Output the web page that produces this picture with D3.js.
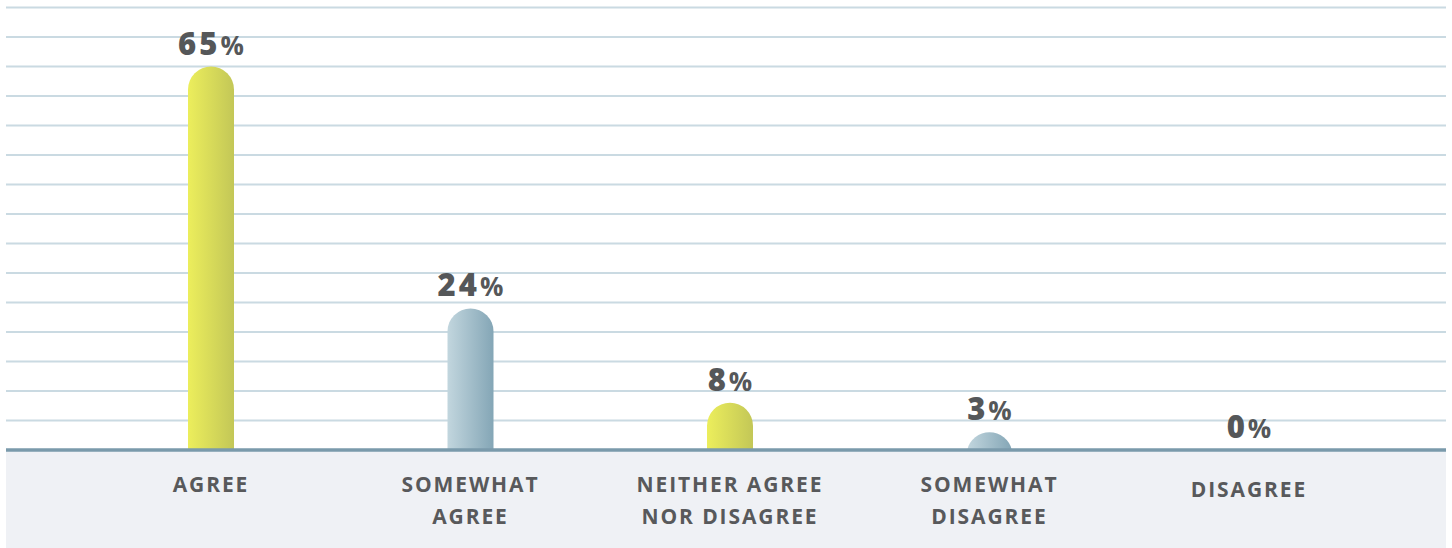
<!DOCTYPE html>
<html>
<head>
<meta charset="utf-8">
<script src="https://cdn.jsdelivr.net/npm/d3@7"></script>
<style>
  html, body { margin: 0; padding: 0; background: #ffffff; }
  svg { display: block; }
</style>
</head>
<body>
<svg id="chart" width="1452" height="548"></svg>
<script>
// Survey response shares (%)
const categories = ["AGREE", "SOMEWHAT AGREE", "NEITHER AGREE NOR DISAGREE", "SOMEWHAT DISAGREE", "DISAGREE"];
const categoryLines = [["AGREE"], ["SOMEWHAT", "AGREE"], ["NEITHER AGREE", "NOR DISAGREE"], ["SOMEWHAT", "DISAGREE"], ["DISAGREE"]];
const values = [65, 24, 8, 3, 0];
const valueLabels = ["65", "24", "8", "3", "0"];
const gridTicks = [0, 5, 10, 15, 20, 25, 30, 35, 40, 45, 50, 55, 60, 65, 70, 75];

const W = 1452, H = 548;
const left = 6, right = 1446, baseY = 450, topY = 7.5;

const svg = d3.select("#chart");
const defs = svg.append("defs");

function grad(id, c0, c1) {
  const g = defs.append("linearGradient").attr("id", id)
    .attr("x1", "0%").attr("x2", "100%").attr("y1", "0%").attr("y2", "0%");
  g.append("stop").attr("offset", "0%").attr("stop-color", c0);
  g.append("stop").attr("offset", "100%").attr("stop-color", c1);
}
grad("gYellow", "#ecee5c", "#c3c757");
grad("gBlue", "#c2d6de", "#84a6b6");
const fills = ["url(#gYellow)", "url(#gBlue)", "url(#gYellow)", "url(#gBlue)", "url(#gYellow)"];

const x = d3.scalePoint().domain(categories).range([211, 1249]);
const y = d3.scaleLinear().domain([0, 75]).range([baseY, topY]);
const barW = 46;

// category strip
svg.append("rect").attr("x", left).attr("y", baseY).attr("width", right - left).attr("height", H - baseY)
  .attr("fill", "#eff1f5");

// horizontal gridlines
svg.append("g").selectAll("line").data(gridTicks.filter(t => t > 0)).join("line")
  .attr("x1", left).attr("x2", right)
  .attr("y1", d => y(d)).attr("y2", d => y(d))
  .attr("stroke", "#cadae2").attr("stroke-width", 2);

// bars with rounded tops
function barPath(cx, top, bottom, w) {
  const r = w / 2;
  const h = bottom - top;
  if (h <= 0) return "";
  if (h >= r) {
    return `M${cx - r},${bottom} L${cx - r},${top + r} A${r},${r} 0 0 1 ${cx + r},${top + r} L${cx + r},${bottom} Z`;
  }
  // shallow cap: circular segment
  const half = Math.sqrt(r * r - (r - h) * (r - h));
  return `M${cx - half},${bottom} A${r},${r} 0 0 1 ${cx + half},${bottom} Z`;
}

svg.append("g").selectAll("path").data(values).join("path")
  .attr("d", (d, i) => barPath(x(categories[i]), y(d), baseY, barW))
  .attr("fill", (d, i) => fills[i]);

// axis baseline
svg.append("line").attr("x1", left).attr("x2", right).attr("y1", baseY).attr("y2", baseY)
  .attr("stroke", "#7a9aab").attr("stroke-width", 3.5);

// value labels
const vl = svg.append("g").selectAll("text").data(values).join("text")
  .attr("x", (d, i) => x(categories[i]) + 1.5)
  .attr("y", d => y(d) - 12)
  .attr("text-anchor", "middle")
  .attr("font-family", "'Open Sans', Lato, sans-serif")
  .attr("font-weight", 800)
  .attr("font-size", 31)
  .attr("letter-spacing", 3)
  .attr("fill", "#555759");
vl.append("tspan").text((d, i) => valueLabels[i]);
vl.append("tspan").attr("font-size", 26).attr("font-weight", 700).text("%");

// category labels
const cl = svg.append("g").selectAll("text").data(categories).join("text")
  .attr("x", d => x(d))
  .attr("y", (d, i) => categoryLines[i].length === 1 && i === 4 ? 497 : 492)
  .attr("text-anchor", "middle")
  .attr("font-family", "'Open Sans', Lato, sans-serif")
  .attr("font-weight", 700)
  .attr("font-size", 21)
  .attr("letter-spacing", 1.9)
  .attr("fill", "#58595b");
cl.selectAll("tspan").data((d, i) => categoryLines[i]).join("tspan")
  .attr("x", function () { return this.parentNode.getAttribute("x"); })
  .attr("dy", (d, j) => j === 0 ? 0 : 32)
  .text(d => d);
</script>
</body>
</html>
